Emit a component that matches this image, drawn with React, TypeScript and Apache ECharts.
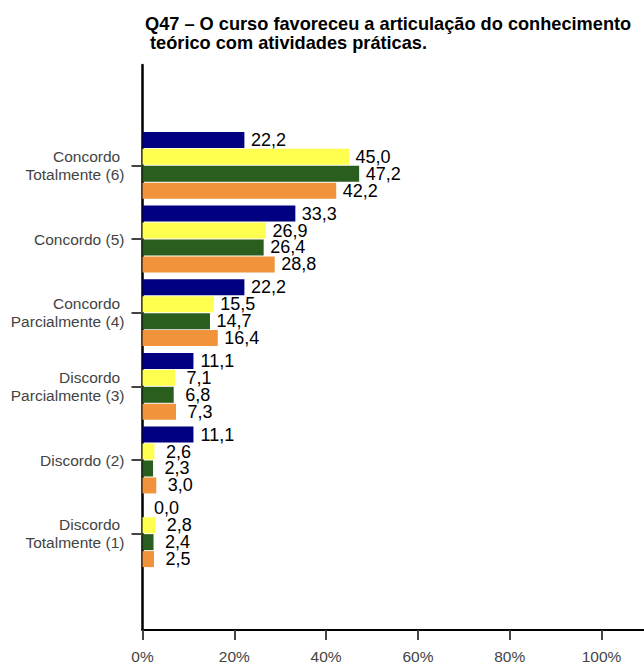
import React, { useEffect, useRef } from "react";
import * as echarts from "echarts";

const categories = [
  "Concordo \nTotalmente (6)",
  "Concordo (5)",
  "Concordo \nParcialmente (4)",
  "Discordo \nParcialmente (3)",
  "Discordo (2)",
  "Discordo \nTotalmente (1)",
];
const seriesA = [22.2, 33.3, 22.2, 11.1, 11.1, 0.0];
const seriesB = [45.0, 26.9, 15.5, 7.1, 2.6, 2.8];
const seriesC = [47.2, 26.4, 14.7, 6.8, 2.3, 2.4];
const seriesD = [42.2, 28.8, 16.4, 7.3, 3.0, 2.5];
const seriesData = [seriesA, seriesB, seriesC, seriesD];
const seriesColors = ["#000080", "#ffff50", "#2a5e1e", "#f0933a"];
const xTicks = [0, 20, 40, 60, 80, 100];

const FONT = "'Liberation Sans', Arial, Helvetica, sans-serif";

export default function App() {
  const ref = useRef<HTMLDivElement>(null);
  useEffect(() => {
    if (!ref.current) return;
    const chart = echarts.init(ref.current, null, { renderer: "svg" });
    const W = 644;
    const L = 142.5;
    const R = 42.5;
    const xMax = xTicks[xTicks.length - 1];
    // outer axis runs to the right edge of the picture, past the 100% tick
    const outerMax = (xMax * (W - L)) / (W - R - L);
    chart.setOption({
      animation: false,
      backgroundColor: "#ffffff",
      title: {
        text: "Q47 – O curso favoreceu a articulação do conhecimento\n\u00a0teórico com atividades práticas.",
        left: 140,
        top: 9,
        textStyle: {
          fontFamily: FONT,
          fontSize: 18.2,
          fontWeight: "bold",
          color: "#000",
          lineHeight: 19,
        },
      },
      grid: [
        { left: L, right: R, top: 128.5, bottom: 93.5 },
        { left: L, right: 0, top: 65, bottom: 30 },
      ],
      xAxis: [
        {
          type: "value",
          gridIndex: 0,
          min: xTicks[0],
          max: xMax,
          interval: 20,
          show: false,
        },
        {
          type: "value",
          gridIndex: 1,
          min: xTicks[0],
          max: outerMax,
          interval: 20,
          axisLine: { show: true, lineStyle: { color: "#000", width: 2 } },
          axisTick: {
            show: true,
            length: 10,
            customValues: xTicks,
            lineStyle: { color: "#444", width: 2 },
          },
          splitLine: { show: false },
          axisLabel: {
            customValues: xTicks,
            formatter: "{value}%",
            fontFamily: FONT,
            fontSize: 15.5,
            color: "#444",
            margin: 18,
          },
        },
      ],
      yAxis: [
        {
          type: "category",
          gridIndex: 0,
          data: categories,
          inverse: true,
          axisLine: { show: false },
          axisTick: {
            show: true,
            alignWithLabel: true,
            length: 11,
            lineStyle: { color: "#444", width: 2 },
          },
          axisLabel: {
            fontFamily: FONT,
            fontSize: 15.5,
            color: "#444",
            lineHeight: 18,
            margin: 18,
            align: "right",
          },
        },
        {
          type: "value",
          gridIndex: 1,
          min: 0,
          max: 1,
          axisLine: { show: true, lineStyle: { color: "#000", width: 2.5 } },
          axisTick: { show: false },
          axisLabel: { show: false },
          splitLine: { show: false },
        },
      ],
      series: seriesData.map((d, i) => ({
        type: "bar",
        xAxisIndex: 0,
        yAxisIndex: 0,
        data: d,
        barWidth: 16,
        barGap: "6%",
        itemStyle: { color: seriesColors[i] },
        label: {
          show: true,
          position: "right",
          distance: 24,
          align: "center",
          fontFamily: FONT,
          fontSize: 18,
          color: "#000",
          formatter: (p: any) => Number(p.value).toFixed(1).replace(".", ","),
        },
      })),
    });
    return () => chart.dispose();
  }, []);
  return (
    <div
      ref={ref}
      style={{ position: "absolute", left: 0, top: 0, width: 644, height: 664 }}
    />
  );
}
